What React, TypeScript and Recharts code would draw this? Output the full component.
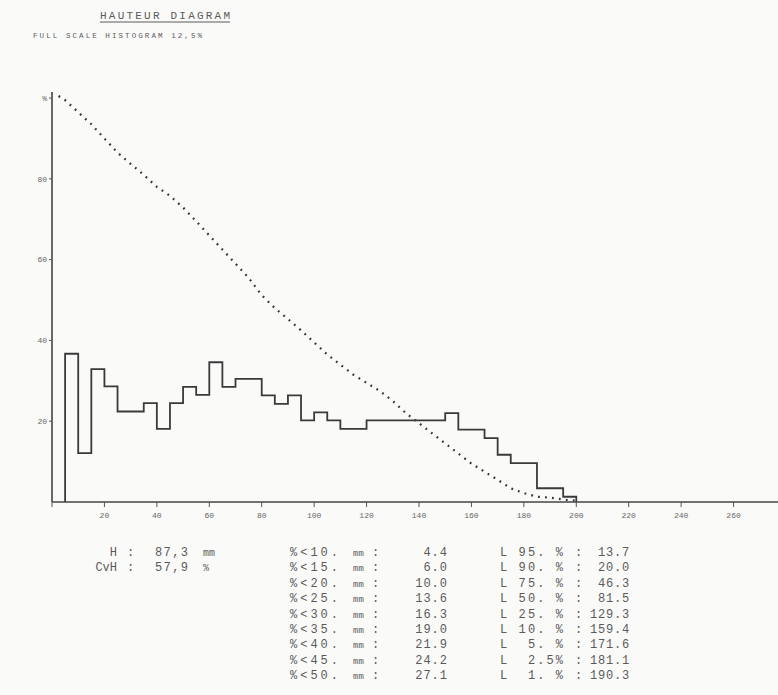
import React from 'react';
import { ComposedChart, Line, XAxis, YAxis } from 'recharts';

// histogram: 5 mm classes, height in "full scale" units (100 = 12,5 %)
const binStarts = [5, 10, 15, 20, 25, 30, 35, 40, 45, 50, 55, 60, 65, 70, 75, 80, 85, 90, 95, 100,
  105, 110, 115, 120, 125, 130, 135, 140, 145, 150, 155, 160, 165, 170, 175, 180, 185, 190, 195];
const binHeights = [36.7, 12.1, 32.9, 28.6, 22.4, 22.4, 24.5, 18.1, 24.5, 28.5, 26.5, 34.6, 28.5, 30.5, 30.5, 26.4, 24.3, 26.4, 20.2, 22.2,
  20.2, 18.1, 18.1, 20.2, 20.2, 20.2, 20.2, 20.2, 20.2, 22.0, 17.9, 17.9, 15.8, 11.7, 9.6, 9.6, 3.4, 3.4, 1.3];
const histEnd = 200;

// cumulative (% longer than) curve, dotted
const survMm = [2.5, 5, 10, 15, 20, 25, 30, 35, 40, 45, 50, 55, 60, 65, 70, 75, 80, 85, 90, 95, 100,
  105, 110, 115, 120, 125, 130, 135, 140, 145, 150, 155, 160, 165, 170, 175, 180, 185, 190, 195, 200];
const survPct = [100.5, 99.5, 96.5, 93.5, 90, 86.5, 83.7, 81, 78, 75.8, 72.9, 69.5, 66, 62.5, 59, 55.5, 51.2, 48, 45.3, 42.5, 39.5,
  36.5, 34, 31.5, 29.5, 27.5, 25, 22, 19.5, 17, 14.5, 12, 9.5, 7.5, 5.5, 3.4, 2.2, 1.3, 1.1, 0.6, 0.3];

const xTicks = [0, 20, 40, 60, 80, 100, 120, 140, 160, 180, 200, 220, 240, 260];
const yTicks = [20, 40, 60, 80, 100];

// statistics printed under the chart
const statLabels = ['H', 'CvH'];
const statValues = ['87,3', '57,9'];
const statUnits = ['mm', '%'];
const lessThanLabels = ['%<10.', '%<15.', '%<20.', '%<25.', '%<30.', '%<35.', '%<40.', '%<45.', '%<50.'];
const lessThanValues = ['4.4', '6.0', '10.0', '13.6', '16.3', '19.0', '21.9', '24.2', '27.1'];
const lengthLabels = ['L 95. %', 'L 90. %', 'L 75. %', 'L 50. %', 'L 25. %', 'L 10. %', 'L  5. %', 'L  2.5%', 'L  1. %'];
const lengthValues = ['13.7', '20.0', '46.3', '81.5', '129.3', '159.4', '171.6', '181.1', '190.3'];

const histData = [{ x: binStarts[0], h: 0 }]
  .concat(binStarts.map((x, i) => ({ x, h: binHeights[i] })))
  .concat([{ x: histEnd, h: 0 }]);
const survData = survMm.map((x, i) => ({ x, p: survPct[i] }));

const mono = '"Liberation Mono", "DejaVu Sans Mono", monospace';
const ink = '#5a5a5a';

export default function App() {
  const rowY = (i: number) => 556 + i * 15.4;
  return (
    <div style={{ position: 'absolute', left: 0, top: 0, width: 778, height: 695, overflow: 'hidden', background: '#fafaf9' }}>
      <div style={{ position: 'absolute', left: 0, top: 0 }}>
        <ComposedChart width={786} height={560} margin={{ top: 92, right: 0, bottom: 28, left: 0 }}>
          <XAxis
            type="number"
            dataKey="x"
            domain={[0, 280]}
            ticks={xTicks}
            allowDataOverflow
            height={30}
            tickSize={5}
            tickFormatter={(v: number) => (v === 0 ? '' : String(v))}
            tick={{ fontSize: 8, fill: '#666', fontFamily: mono, dy: 3 }}
            axisLine={{ stroke: '#444', strokeWidth: 1.6 }}
            tickLine={{ stroke: '#555' }}
          />
          <YAxis
            type="number"
            domain={[0, 101.5]}
            ticks={yTicks}
            width={52}
            tickSize={3}
            tickFormatter={(v: number) => (v === 100 ? '%' : String(v))}
            tick={{ fontSize: 8, fill: '#666', fontFamily: mono }}
            axisLine={{ stroke: '#444', strokeWidth: 1.6 }}
            tickLine={{ stroke: '#555' }}
          />
          <Line
            data={survData}
            dataKey="p"
            type="linear"
            stroke="#333"
            strokeWidth={2.2}
            strokeDasharray="1.8 5.2"
            dot={false}
            isAnimationActive={false}
          />
          <Line
            data={histData}
            dataKey="h"
            type="stepAfter"
            stroke="#3a3a3a"
            strokeWidth={1.8}
            dot={false}
            isAnimationActive={false}
          />
        </ComposedChart>
      </div>
      <svg width={778} height={695} style={{ position: 'absolute', left: 0, top: 0, pointerEvents: 'none' }}>
        <g fontFamily={mono} fill={ink}>
          <text x={100} y={19} fontSize={11} textLength={130}>HAUTEUR DIAGRAM</text>
          <line x1={100} x2={230} y1={22} y2={22} stroke={ink} strokeWidth={1} />
          <text x={33} y={38} fontSize={7.5} textLength={169}>FULL SCALE HISTOGRAM 12,5%</text>
          {statLabels.map((s, i) => (
            <g key={s} fontSize={12}>
              <text x={117} y={rowY(i)} textAnchor="end">{s}</text>
              <text x={127} y={rowY(i)}>:</text>
              <text x={155} y={rowY(i)} textLength={33}>{statValues[i]}</text>
              <text x={203} y={rowY(i)} fontSize={10}>{statUnits[i]}</text>
            </g>
          ))}
          {lessThanLabels.map((s, i) => (
            <g key={s} fontSize={12}>
              <text x={290} y={rowY(i)} textLength={48}>{s}</text>
              <text x={353} y={rowY(i)} fontSize={9}>mm</text>
              <text x={372} y={rowY(i)}>:</text>
              <text x={448} y={rowY(i)} textAnchor="end" letterSpacing={1}>{lessThanValues[i]}</text>
            </g>
          ))}
          {lengthLabels.map((s, i) => (
            <g key={s} fontSize={12}>
              <text x={500} y={rowY(i)} textLength={63} style={{ whiteSpace: 'pre' }}>{s}</text>
              <text x={575} y={rowY(i)}>:</text>
              <text x={630} y={rowY(i)} textAnchor="end" letterSpacing={0.8}>{lengthValues[i]}</text>
            </g>
          ))}
        </g>
      </svg>
    </div>
  );
}
